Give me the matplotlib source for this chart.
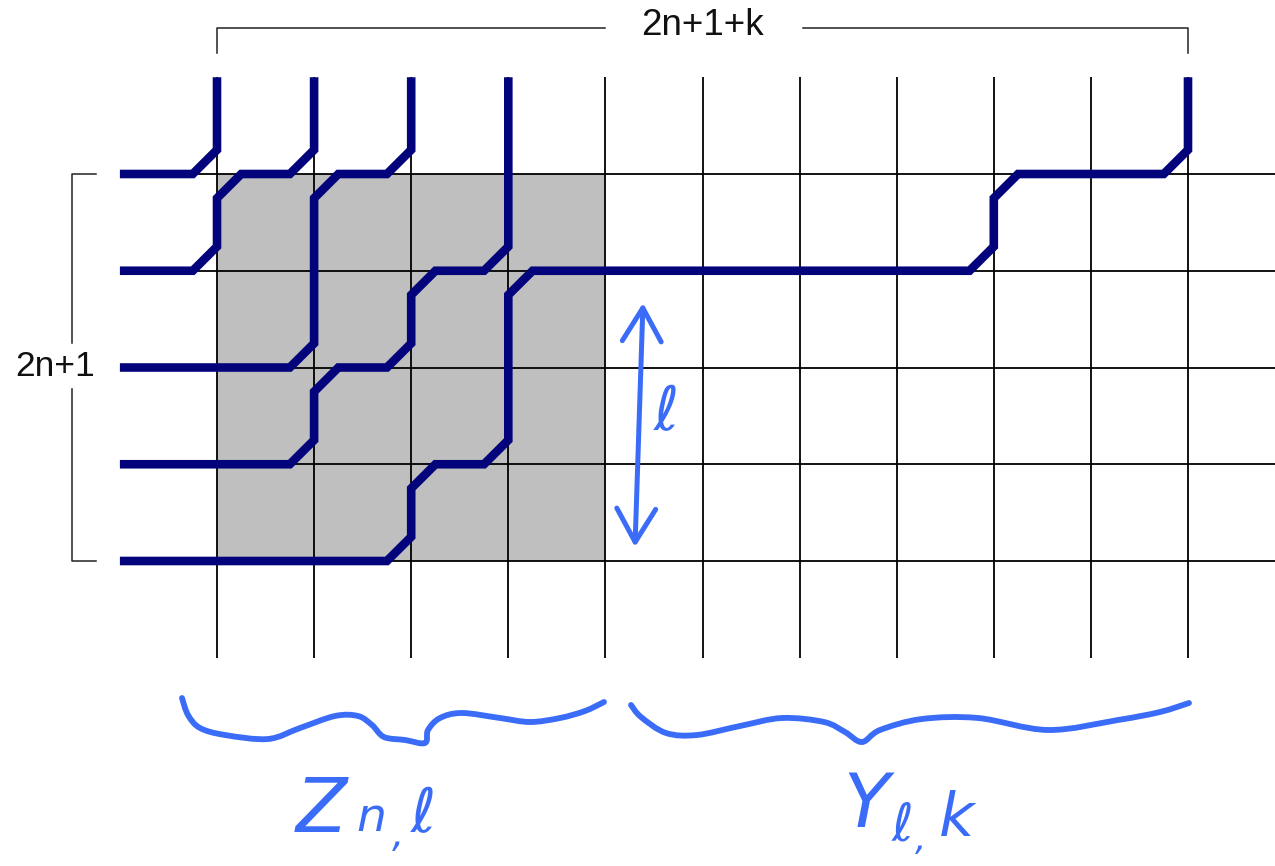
import numpy as np
import matplotlib
matplotlib.use("Agg")
import matplotlib.pyplot as plt
from matplotlib.path import Path
from matplotlib.patches import PathPatch, Rectangle, FancyArrowPatch

# ---------------- data ----------------
grid_cols = list(range(11))          # 2n+1+k = 11 vertical lines
grid_rows = list(range(5))           # 2n+1 = 5 horizontal lines
block_cols = (0, 4)                  # shaded Z_{n,l} block
block_rows = (0, 4)
# wire routes as grid corner nodes (col, row); row -1 = top exit, col -1 = left entry
wire_1 = [(-1, 0), (0, 0), (0, -1)]
wire_2 = [(-1, 1), (0, 1), (0, 0), (1, 0), (1, -1)]
wire_3 = [(-1, 2), (1, 2), (1, 0), (2, 0), (2, -1)]
wire_4 = [(-1, 3), (1, 3), (1, 2), (2, 2), (2, 1), (3, 1), (3, -1)]
wire_5 = [(-1, 4), (2, 4), (2, 3), (3, 3), (3, 1), (8, 1), (8, 0), (10, 0), (10, -1)]
wires = [wire_1, wire_2, wire_3, wire_4, wire_5]
top_label = "2n+1+k"
left_label = "2n+1"

# ---------------- style ----------------
NAVY = "#03037c"
BLUE = "#3a6cf8"
GRAY = "#bfbfbf"
W, H = 1275, 866
fig = plt.figure(figsize=(W / 100, H / 100), dpi=100)
ax = fig.add_axes([0, 0, 1, 1])
X0, DX, Y0, DY = 217.0, 97.1, 174.0, 96.75
ax.set_xlim((0 - X0) / DX, (W - X0) / DX)
ax.set_ylim((H - Y0) / DY, (0 - Y0) / DY)
ax.axis("off")


def px(x, y):
    return ((x - X0) / DX, (y - Y0) / DY)


def chamfer(pts, d=0.25):
    pts = [np.array(p, float) for p in pts]
    out = [pts[0]]
    for i in range(1, len(pts) - 1):
        p0, p1, p2 = pts[i - 1], pts[i], pts[i + 1]
        v1 = (p1 - p0) / np.linalg.norm(p1 - p0)
        v2 = (p2 - p1) / np.linalg.norm(p2 - p1)
        out.append(p1 - v1 * d)
        out.append(p1 + v2 * d)
    out.append(pts[-1])
    return np.array(out)


def smooth_path(points):
    P = [np.array(px(*p)) for p in points]
    P = [P[0]] + P + [P[-1]]
    verts = [P[1]]
    codes = [Path.MOVETO]
    for i in range(1, len(P) - 2):
        p0, p1, p2, p3 = P[i - 1], P[i], P[i + 1], P[i + 2]
        c1 = p1 + (p2 - p0) / 6
        c2 = p2 - (p3 - p1) / 6
        verts += [c1, c2, p2]
        codes += [Path.CURVE4] * 3
    return Path(verts, codes)


# shaded block
ax.add_patch(Rectangle((block_cols[0], block_rows[0]), block_cols[1] - block_cols[0],
                       block_rows[1] - block_rows[0], facecolor=GRAY, edgecolor="none", zorder=1))

# grid
for r in grid_rows:
    ax.plot([-1, 11], [r, r], color="black", lw=1.3, zorder=2, solid_capstyle="butt")
for c in grid_cols:
    ax.plot([c, c], [-1, 5], color="black", lw=1.3, zorder=2, solid_capstyle="butt")

# wires
for w in wires:
    pts = chamfer(w)
    ax.plot(pts[:, 0], pts[:, 1], color=NAVY, lw=6.2, zorder=3,
            solid_capstyle="butt", solid_joinstyle="miter")

# top bracket
ty, tk = -1.51, -1.25
ax.plot([grid_cols[0]] * 2 + [4.0], [tk, ty, ty], color="#222222", lw=1.1)
ax.plot([6.03, grid_cols[-1], grid_cols[-1]], [ty, ty, tk], color="#222222", lw=1.1)
ax.text(5.0, -1.53, top_label, ha="center", va="center", fontsize=26.5,
        family="Liberation Sans", color="#111111")

# left bracket
lx, lk = -1.493, -1.246
ax.plot([lk, lx, lx], [grid_rows[0], grid_rows[0], 1.75], color="#222222", lw=1.1)
ax.plot([lx, lx, lk], [2.22, grid_rows[-1], grid_rows[-1]], color="#222222", lw=1.1)
ax.text(*px(55, 366), left_label, ha="center", va="center", fontsize=25.5,
        family="Liberation Sans", color="#111111")

# hand-drawn braces
left_brace = [(182, 698), (188, 715), (200, 728), (225, 735), (268, 739), (300, 728),
              (335, 716), (358, 716), (372, 725), (384, 737), (405, 740), (425, 743),
              (428, 730), (440, 718), (462, 713), (500, 718), (530, 722), (560, 718),
              (585, 711), (604, 702)]
right_brace = [(631, 705), (641, 717), (666, 733), (697, 735), (740, 726), (782, 718),
               (824, 722), (845, 732), (862, 742), (880, 730), (922, 719), (978, 718),
               (1048, 730), (1118, 720), (1160, 712), (1189, 703)]
for b in (left_brace, right_brace):
    ax.add_patch(PathPatch(smooth_path(b), facecolor="none", edgecolor=BLUE, lw=4.2,
                           capstyle="round", joinstyle="round", zorder=4))

# double arrow with l
arr = FancyArrowPatch(px(635, 547), px(643, 303),
                      arrowstyle="<->,head_length=1.2,head_width=0.7",
                      mutation_scale=20, lw=3.6, color=BLUE, shrinkA=0, shrinkB=0,
                      capstyle="round", joinstyle="round", zorder=4)
ax.add_patch(arr)

hand = dict(color=BLUE, style="italic", family="DejaVu Sans", ha="center", va="baseline",
            zorder=5)
ax.text(*px(666, 430), "ℓ", fontsize=44, **hand)
# Z_{n,l}
ax.text(*px(321, 832), "Z", fontsize=54, **hand)
ax.text(*px(371, 831), "n", fontsize=34, **hand)
ax.text(*px(398, 846), ",", fontsize=28, **hand)
ax.text(*px(423, 832), "ℓ", fontsize=44, **hand)
# Y_{l,k}
ax.text(*px(866, 827), "Y", fontsize=54, **hand)
ax.text(*px(903, 840), "ℓ", fontsize=38, **hand)
ax.text(*px(921, 850), ",", fontsize=26, **hand)
ax.text(*px(957, 836), "k", fontsize=44, **hand)

fig.savefig("out.png", dpi=100)
